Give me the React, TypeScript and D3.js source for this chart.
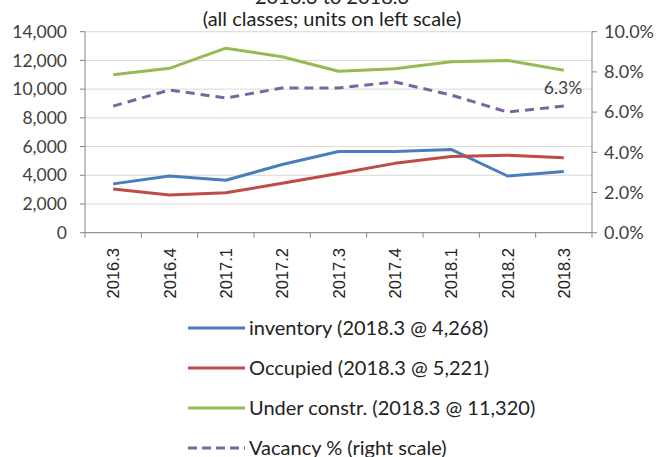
import React from "react";
import * as d3 from "d3";

const categories = ["2016.3", "2016.4", "2017.1", "2017.2", "2017.3", "2017.4", "2018.1", "2018.2", "2018.3"];
const inventory = [3400, 3950, 3650, 4750, 5650, 5650, 5800, 3950, 4268];
const occupied = [3050, 2620, 2780, 3440, 4130, 4830, 5300, 5400, 5221];
const underConstr = [11000, 11450, 12850, 12250, 11250, 11420, 11900, 12000, 11320];
const vacancy = [6.3, 7.1, 6.7, 7.2, 7.2, 7.5, 6.85, 6.0, 6.3];
const leftTicks = [0, 2000, 4000, 6000, 8000, 10000, 12000, 14000];
const rightTicks = [0, 2, 4, 6, 8, 10];
const titleLines = ["2016.3 to 2018.3", "(all classes; units on left scale)"];
const legendLabels = [
  "inventory (2018.3 @ 4,268)",
  "Occupied (2018.3 @ 5,221)",
  "Under constr. (2018.3 @ 11,320)",
  "Vacancy % (right scale)",
];

const W = 659, H = 457;
const L = 85, R = 592, T = 31.7, B = 232.7;
const uiFont = "Lato, 'Open Sans', sans-serif";

export default function App() {
  const x = d3.scaleBand<string>().domain(categories).range([L, R]);
  const xc = (i: number) => (x(categories[i]) as number) + x.bandwidth() / 2;
  const yL = d3.scaleLinear().domain([0, 14000]).range([B, T]);
  const yR = d3.scaleLinear().domain([0, 10]).range([B, T]);
  const lineL = d3.line<number>().x((_, i) => xc(i)).y((d) => yL(d));
  const lineR = d3.line<number>().x((_, i) => xc(i)).y((d) => yR(d));
  const fmt = d3.format(",");
  const series = [
    { data: inventory, color: "#4a7ebb", path: lineL(inventory), dash: undefined },
    { data: occupied, color: "#be4b48", path: lineL(occupied), dash: undefined },
    { data: underConstr, color: "#98b954", path: lineL(underConstr), dash: undefined },
    { data: vacancy, color: "#7e62a1", path: lineR(vacancy), dash: "9,6" },
  ];
  const axisColor = "#868686";
  const textColor = "#404040";
  const last = vacancy.length - 1;
  return (
    <svg width={W} height={H} style={{ position: "absolute", left: 0, top: 0, background: "#fff" }}>
      <rect x={0} y={0} width={W} height={H} fill="#fff" />
      {/* title */}
      <text x={332} y={4} textAnchor="middle" fontFamily={uiFont} fontSize={20} fill="#222">{titleLines[0]}</text>
      <text x={332} y={26} textAnchor="middle" fontFamily={uiFont} fontSize={20} fill="#222">{titleLines[1]}</text>
      {/* gridlines */}
      {leftTicks.map((t) => (
        <line key={"g" + t} x1={L} x2={R} y1={yL(t)} y2={yL(t)} stroke="#d9d9d9" strokeWidth={1} />
      ))}
      {/* left axis */}
      <line x1={L} x2={L} y1={T} y2={B} stroke={axisColor} />
      {leftTicks.map((t) => (
        <g key={"l" + t}>
          <line x1={L - 5} x2={L} y1={yL(t)} y2={yL(t)} stroke={axisColor} />
          <text x={67} y={yL(t)} dy="0.35em" textAnchor="end" fontFamily={uiFont} fontSize={17.5} fill={textColor}>{fmt(t)}</text>
        </g>
      ))}
      {/* right axis */}
      <line x1={R} x2={R} y1={T} y2={B} stroke={axisColor} />
      {rightTicks.map((t) => (
        <g key={"r" + t}>
          <line x1={R} x2={R + 5} y1={yR(t)} y2={yR(t)} stroke={axisColor} />
          <text x={604} y={yR(t)} dy="0.35em" textAnchor="start" fontFamily={uiFont} fontSize={18} fill={textColor}>{t.toFixed(1) + "%"}</text>
        </g>
      ))}
      {/* bottom axis */}
      <line x1={L} x2={R} y1={B} y2={B} stroke={axisColor} />
      {categories.map((c) => (
        <line key={"bt" + c} x1={x(c) as number} x2={x(c) as number} y1={B} y2={B + 5} stroke={axisColor} />
      ))}
      <line x1={R} x2={R} y1={B} y2={B + 5} stroke={axisColor} />
      {categories.map((c, i) => (
        <text key={"xl" + c} transform={`translate(${xc(i) + 6},248) rotate(-90)`} textAnchor="end"
          fontFamily="'Liberation Sans', Arial, sans-serif" fontSize={16.5} fill="#222">{c}</text>
      ))}
      {/* series */}
      {series.map((s, i) => (
        <path key={"s" + i} d={s.path || ""} fill="none" stroke={s.color} strokeWidth={3} strokeDasharray={s.dash} strokeLinejoin="round" />
      ))}
      <text x={563} y={yR(vacancy[last]) - 12} textAnchor="middle" fontFamily={uiFont} fontSize={17.5} fill={textColor}>{vacancy[last].toFixed(1) + "%"}</text>
      {/* legend */}
      {legendLabels.map((lab, i) => {
        const y = 328 + i * 40;
        return (
          <g key={"lg" + i}>
            <line x1={188} x2={245} y1={y} y2={y} stroke={series[i].color} strokeWidth={3} strokeDasharray={series[i].dash ? "9,5" : undefined} />
            <text x={249} y={y} dy="0.35em" fontFamily={uiFont} fontSize={20} fill="#222">{lab}</text>
          </g>
        );
      })}
    </svg>
  );
}
